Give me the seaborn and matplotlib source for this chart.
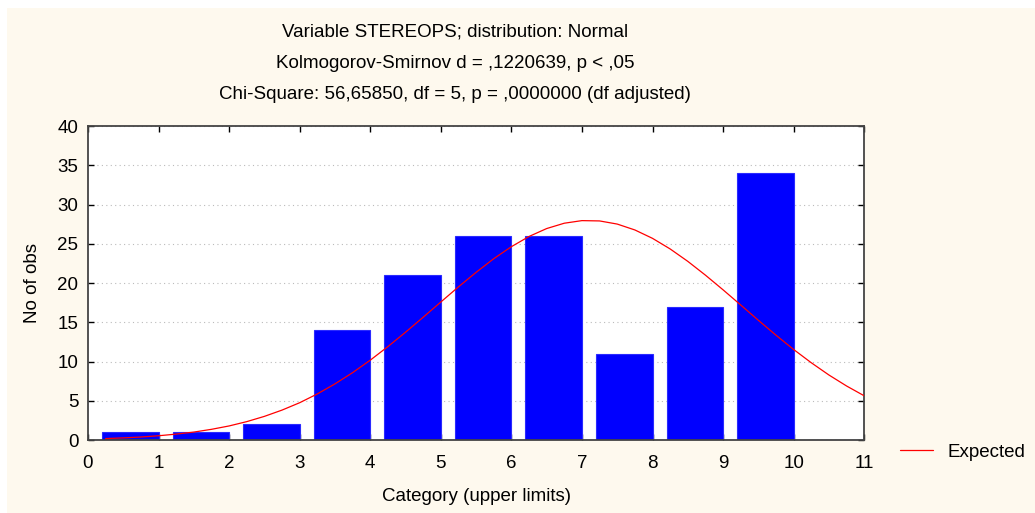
import matplotlib.pyplot as plt
import seaborn as sns
import pandas as pd
import numpy as np
from matplotlib.patches import Rectangle

sns.set_theme(style="white")
plt.rcParams['font.family'] = ['Liberation Sans', 'DejaVu Sans']
plt.rcParams['text.color'] = 'black'
plt.rcParams['axes.labelcolor'] = 'black'

# --- data ---
upper_limits = [1, 2, 3, 4, 5, 6, 7, 8, 9, 10, 11]
counts = [1, 1, 2, 14, 21, 26, 26, 11, 17, 34, 0]

curve_x = [0.25, 0.5, 0.75, 1.0, 1.25, 1.5, 1.75, 2.0, 2.25, 2.5, 2.75, 3.0,
           3.25, 3.5, 3.75, 4.0, 4.25, 4.5, 4.75, 5.0, 5.25, 5.5, 5.75, 6.0,
           6.25, 6.5, 6.75, 7.0, 7.25, 7.5, 7.75, 8.0, 8.25, 8.5, 8.75, 9.0,
           9.25, 9.5, 9.75, 10.0, 10.25, 10.5, 10.75, 11.0]
curve_y = [0.2, 0.29, 0.4, 0.56, 0.77, 1.03, 1.38, 1.81, 2.36, 3.03, 3.83, 4.77,
           5.89, 7.17, 8.6, 10.19, 11.92, 13.75, 15.66, 17.6, 19.53, 21.38, 23.12, 24.65,
           25.95, 26.96, 27.64, 27.97, 27.93, 27.53, 26.78, 25.71, 24.36, 22.78, 21.02, 19.15,
           17.22, 15.27, 13.37, 11.55, 9.86, 8.3, 6.9, 5.65]

title_lines = ["Variable STEREOPS; distribution: Normal",
               "Kolmogorov-Smirnov d = ,1220639, p < ,05",
               "Chi-Square: 56,65850, df = 5, p = ,0000000 (df adjusted)"]

bars = pd.DataFrame({'upper': upper_limits, 'count': counts})
bars['mid'] = bars['upper'] - 0.4
curve = pd.DataFrame({'x': curve_x, 'y': curve_y})

fig = plt.figure(figsize=(10.35, 5.13), dpi=100, facecolor='white')
fig.patches.append(Rectangle((7 / 1035, 0), 1, 1 - 8 / 513, transform=fig.transFigure,
                             facecolor='#fef9ee', edgecolor='none', zorder=-10))
ax = fig.add_axes([0.085, 0.142, 0.75, 0.612])
ax.set_facecolor('white')

sns.barplot(data=bars, x='mid', y='count', native_scale=True, width=0.8,
            color='#0000ff', saturation=1, edgecolor='#2a2aff', linewidth=0.8,
            ax=ax, zorder=2)
sns.lineplot(data=curve, x='x', y='y', color='#ff0000', linewidth=0.9,
             ax=ax, label='Expected', zorder=3)

ax.set_xlim(0, 11)
ax.set_ylim(0, 40)
ax.set_xticks(range(0, 12))
ax.set_yticks(range(0, 41, 5))
ax.tick_params(axis='both', labelsize=13.5, direction='in', length=4, width=1,
               colors='black', top=True, right=True, bottom=True, left=True)
ax.tick_params(axis='x', pad=11)
ax.tick_params(axis='y', pad=7)
ax.yaxis.grid(True, linestyle=(0, (1, 3)), color='#bbbbbb', linewidth=0.8)
ax.set_axisbelow(True)
for s in ax.spines.values():
    s.set_visible(True)
    s.set_color('#444444')
    s.set_linewidth(1.3)

ax.set_xlabel('Category (upper limits)', fontsize=13.5, labelpad=11)
ax.set_ylabel('No of obs', fontsize=13.5, labelpad=12)

for i, line in enumerate(title_lines):
    fig.text(0.4395, 1 - (32 + 31.5 * i) / 513, line, ha='center', va='center',
             fontsize=13.5)

ax.legend(loc='center left', bbox_to_anchor=(900 / 1035, 1 - 452 / 513),
          bbox_transform=fig.transFigure, frameon=False, fontsize=13.5,
          borderpad=0, borderaxespad=0, handlelength=1.76, handletextpad=0.75)

fig.savefig('out.png', dpi=100, facecolor=fig.get_facecolor())
